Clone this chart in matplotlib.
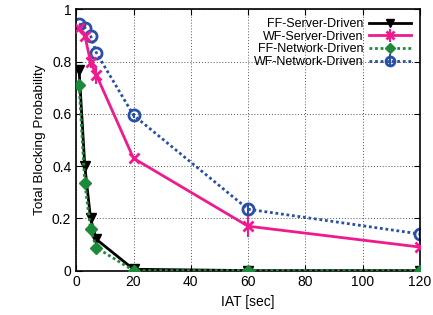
import numpy as np
import matplotlib
matplotlib.use("Agg")
import matplotlib.pyplot as plt

plt.rcParams["font.family"] = ["Liberation Sans", "DejaVu Sans"]

iat = [1, 3, 5, 7, 20, 60, 120]
ff_server = [0.77, 0.40, 0.20, 0.12, 0.005, 0.0, 0.0]
wf_server = [0.93, 0.90, 0.80, 0.75, 0.43, 0.17, 0.09]
wf_server_err = [0.0, 0.01, 0.025, 0.035, 0.01, 0.04, 0.0]
ff_network = [0.71, 0.335, 0.16, 0.088, 0.0, 0.0, 0.0]
wf_network = [0.945, 0.93, 0.90, 0.835, 0.595, 0.235, 0.14]
wf_network_err = [0.0, 0.0, 0.0, 0.0, 0.01, 0.02, 0.02]

fig = plt.figure(figsize=(4.33, 3.15), dpi=100)
ax = fig.add_axes([0.176, 0.141, 0.794, 0.829])

ax.errorbar(iat, ff_server, color="black", lw=2, marker="v", ms=7,
            label="FF-Server-Driven", zorder=4)
ax.errorbar(iat, wf_server, yerr=wf_server_err, color="#ee1a8e", lw=2, marker="x",
            ms=7, mew=2, capsize=0, elinewidth=1.5, label="WF-Server-Driven", zorder=3)
ax.errorbar(iat, ff_network, color="#1d8a3a", lw=2, ls=(0, (1, 1)), marker="D", ms=6,
            label="FF-Network-Driven", zorder=5)
ax.errorbar(iat, wf_network, yerr=wf_network_err, color="#2a4fa8", lw=2, ls=(0, (1, 1)),
            marker="o", ms=8, mfc="none", mew=2, capsize=0, elinewidth=1.5,
            label="WF-Network-Driven", zorder=2)

ax.set_xlim(0, 120)
ax.set_ylim(0, 1)
ax.set_xticks(range(0, 121, 20))
ax.set_yticks([0, 0.2, 0.4, 0.6, 0.8, 1])
ax.set_yticklabels(["0", "0.2", "0.4", "0.6", "0.8", "1"])
ax.tick_params(direction="in", top=True, right=True, labelsize=10, length=4)
ax.grid(True, color="#555555", ls=(0, (1, 2)), lw=0.7)
ax.set_xlabel("IAT [sec]", fontsize=10)
ax.set_ylabel("Total Blocking Probability", fontsize=9.7)
for s in ax.spines.values():
    s.set_linewidth(1.2)

ax.legend(loc="upper right", frameon=False, markerfirst=False, fontsize=9,
          handlelength=3.4, labelspacing=0.05, borderaxespad=0.3, handletextpad=0.4,
          markerscale=0.8)

fig.savefig("out.png", dpi=100)
